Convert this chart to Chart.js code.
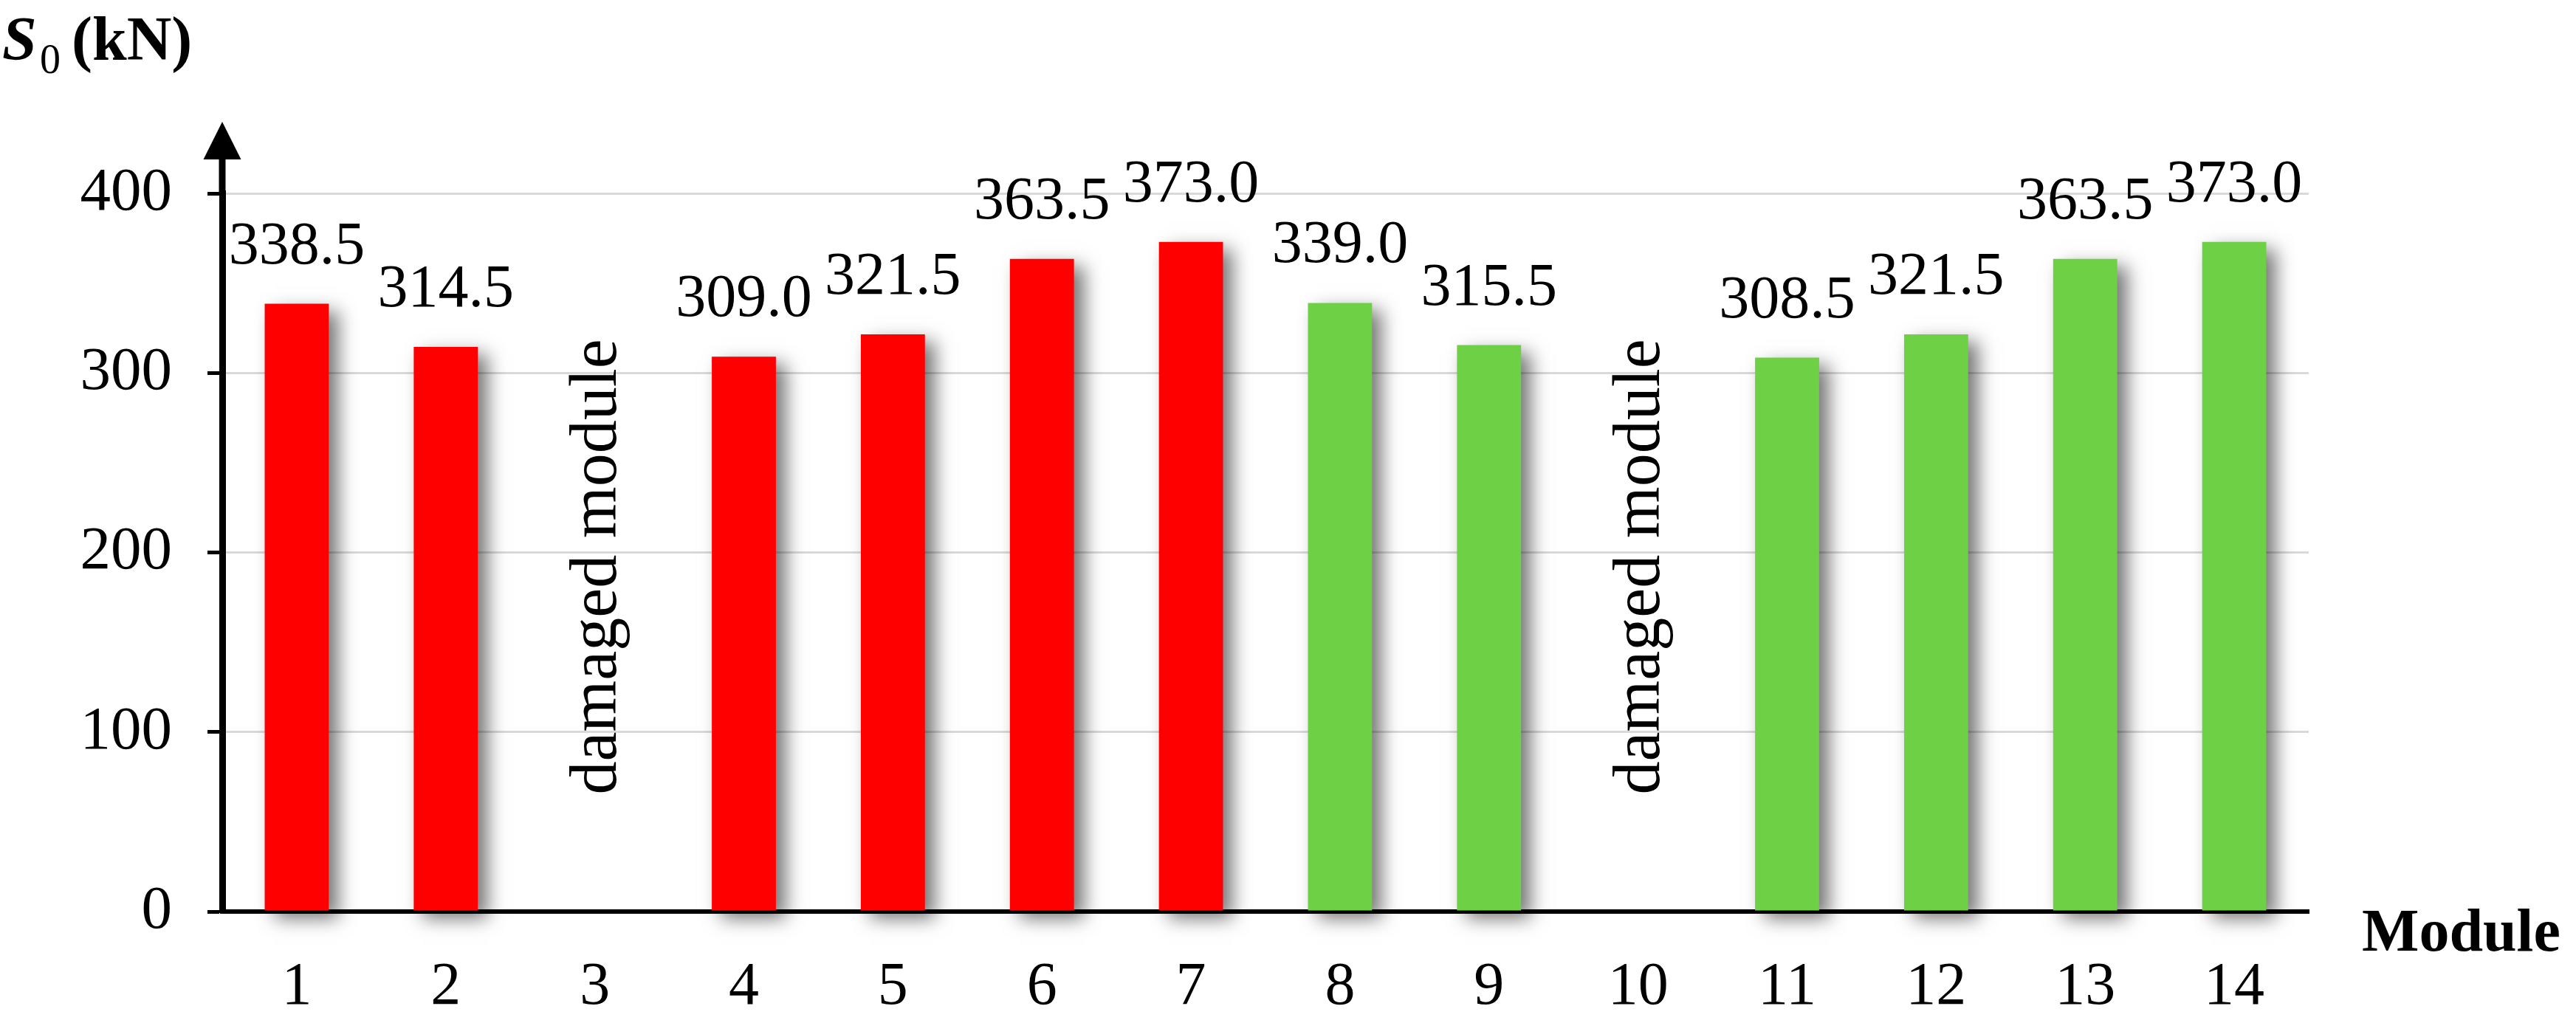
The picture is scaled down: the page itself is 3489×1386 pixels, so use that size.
<!DOCTYPE html>
<html>
<head>
<meta charset="utf-8">
<script src="https://cdn.jsdelivr.net/npm/chart.js@4.4.1/dist/chart.umd.min.js"></script>
<style>
html,body{margin:0;padding:0;background:#ffffff;}
#wrap{width:3489px;height:1386px;position:relative;}
canvas{display:block;}
</style>
</head>
<body>
<div id="wrap"><canvas id="c" width="3489" height="1386"></canvas></div>
<script>
// ---- data ----
const modules = ['1','2','3','4','5','6','7','8','9','10','11','12','13','14'];
const groupRed = [338.5, 314.5, null, 309.0, 321.5, 363.5, 373.0, null, null, null, null, null, null, null];
const groupGreen = [null, null, null, null, null, null, null, 339.0, 315.5, null, 308.5, 321.5, 363.5, 373.0];
const damagedModules = ['3', '10'];
const damagedLabel = 'damaged module';
const yMin = 0, yMax = 400, yStep = 100;
const yTitleMain = 'S', yTitleSub = '0', yTitleUnit = '(kN)';
const xTitle = 'Module';

const FONT = '"Liberation Serif", "Times New Roman", serif';

const shadowPlugin = {
  id: 'barShadow',
  beforeDatasetsDraw(chart) {
    const c = chart.ctx;
    c.save();
    c.shadowColor = 'rgba(0,0,0,0.55)';
    c.shadowBlur = 24;
    c.shadowOffsetX = 13;
    c.shadowOffsetY = 10;
  },
  afterDatasetsDraw(chart) {
    chart.ctx.restore();
  }
};

const annotPlugin = {
  id: 'annot',
  afterDraw(chart) {
    const c = chart.ctx;
    const area = chart.chartArea;
    const xs = chart.scales.x;
    c.save();
    // value labels
    c.fillStyle = '#000';
    c.font = '82px ' + FONT;
    c.textAlign = 'center';
    c.textBaseline = 'alphabetic';
    chart.data.datasets.forEach((ds, di) => {
      const meta = chart.getDatasetMeta(di);
      meta.data.forEach((el, i) => {
        const v = ds.data[i];
        if (v === null || v === undefined) return;
        c.fillText(v.toFixed(1), el.x, el.y - 55);
      });
    });
    // damaged module vertical text
    c.font = '90px ' + FONT;
    damagedModules.forEach(m => {
      const idx = modules.indexOf(m);
      const px = xs.getPixelForValue(idx) + 28;
      const py = area.top + 0.52 * (area.bottom - area.top);
      c.save();
      c.translate(px, py);
      c.rotate(-Math.PI / 2);
      c.textAlign = 'center';
      c.textBaseline = 'alphabetic';
      c.fillText(damagedLabel, 0, 0);
      c.restore();
    });
    // y axis arrow
    const ax = area.left;
    c.strokeStyle = '#000';
    c.lineWidth = 9;
    c.beginPath();
    c.moveTo(ax, area.top + 2);
    c.lineTo(ax, 212);
    c.stroke();
    c.beginPath();
    c.moveTo(ax, 165);
    c.lineTo(ax - 25.5, 216);
    c.lineTo(ax + 25.5, 216);
    c.closePath();
    c.fill();
    // y title
    c.textAlign = 'left';
    c.textBaseline = 'alphabetic';
    c.font = 'italic bold 84px ' + FONT;
    c.fillText(yTitleMain, 3, 81);
    c.font = '56px ' + FONT;
    c.fillText(yTitleSub, 54, 99);
    c.font = 'bold 84px ' + FONT;
    c.fillText(yTitleUnit, 97, 81);
    // x title
    c.font = 'bold 82px ' + FONT;
    c.fillText(xTitle, 3199, 1288);
    c.restore();
  }
};

new Chart(document.getElementById('c'), {
  type: 'bar',
  data: {
    labels: modules,
    datasets: [
      { data: groupRed, backgroundColor: '#ff0000', borderWidth: 0, clip: false, grouped: false,
        categoryPercentage: 1.0, barPercentage: 0.43 },
      { data: groupGreen, backgroundColor: '#6ed145', borderWidth: 0, clip: false, grouped: false,
        categoryPercentage: 1.0, barPercentage: 0.43 }
    ]
  },
  options: {
    responsive: false,
    devicePixelRatio: 1,
    animation: false,
    layout: { padding: { left: 0, top: 262, right: 362, bottom: 0 } },
    plugins: { legend: { display: false }, tooltip: { enabled: false }, title: { display: false } },
    scales: {
      x: {
        z: 1,
        grid: { display: false },
        border: { display: true, color: '#000', width: 6 },
        ticks: { color: '#000', font: { family: FONT, size: 82 }, padding: 46, maxRotation: 0, autoSkip: false },
        afterFit(scale) { scale.height = 151; }
      },
      y: {
        min: yMin, max: yMax,
        grid: {
          color: (ctx) => (ctx.tick && ctx.tick.value === 0) ? '#000' : '#d9d9d9',
          lineWidth: 3,
          drawTicks: true,
          tickLength: 20,
          tickColor: '#000',
          tickWidth: 5
        },
        border: { display: true, color: '#000', width: 9 },
        ticks: { stepSize: yStep, color: '#000', font: { family: FONT, size: 83 }, padding: 48 },
        afterFit(scale) { scale.width = 301; }
      }
    }
  },
  plugins: [shadowPlugin, annotPlugin]
});
</script>
</body>
</html>
